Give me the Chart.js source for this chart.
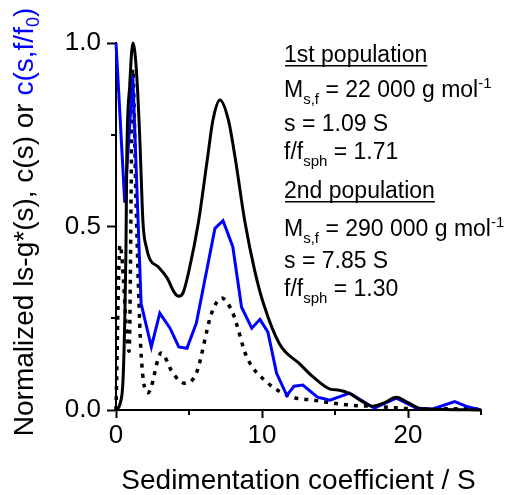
<!DOCTYPE html>
<html>
<head>
<meta charset="utf-8">
<script src="https://cdn.jsdelivr.net/npm/chart.js@4.4.0/dist/chart.umd.min.js"></script>
<style>
  html, body { margin: 0; padding: 0; background: #fff; }
  #wrap { width: 513px; height: 495px; position: relative; }
</style>
</head>
<body>
<div id="wrap"><canvas id="myChart"></canvas></div>
<script>
// ls-g*(s), solid black
var lsgS = [0, 0.3, 0.48, 0.6, 0.68, 0.74, 0.94, 1.16, 1.39, 1.62, 1.85, 2.1, 2.33, 2.9, 3.5, 4.0, 4.3, 4.6, 5.0, 5.64, 6.28, 6.64, 7.12, 7.7, 8.15, 8.84, 9.5, 10.1, 11.2, 12.6, 13.5, 14.66, 15.3, 16.0, 16.8, 17.6, 18.4, 19.2, 20.0, 20.8, 22.0, 25.0];
var lsgY = [0, 0.02, 0.08, 0.245, 0.43, 0.69, 0.885, 1.0, 0.93, 0.75, 0.51, 0.44, 0.41, 0.39, 0.36, 0.32, 0.31, 0.32, 0.38, 0.51, 0.69, 0.79, 0.845, 0.79, 0.69, 0.51, 0.38, 0.29, 0.18, 0.125, 0.09, 0.057, 0.054, 0.045, 0.025, 0.01, 0.02, 0.035, 0.02, 0.005, 0.002, 0.0];

// c(s,f/f0), blue
var cffS = [0, 0.6, 1.15, 1.72, 2.42, 3.0, 3.7, 4.3, 4.86, 5.5, 6.78, 7.33, 8.0, 8.6, 9.3, 9.86, 10.4, 11.0, 11.7, 12.2, 12.8, 13.8, 14.66, 16.0, 17.7, 19.2, 20.6, 21.7, 23.2, 24.0, 25.0];
var cffY = [1.0, 0.565, 0.91, 0.29, 0.172, 0.264, 0.223, 0.172, 0.168, 0.236, 0.495, 0.516, 0.445, 0.28, 0.223, 0.247, 0.213, 0.10, 0.04, 0.065, 0.068, 0.035, 0.027, 0.046, 0.005, 0.032, 0.005, 0.003, 0.023, 0.01, 0.0];

// c(s), dotted black
var csS = [0, 0.27, 0.9, 1.15, 1.37, 1.71, 2.2, 3.1, 3.9, 4.7, 5.5, 6.55, 7.24, 8.0, 8.95, 10.3, 12.0, 13.5, 15.8, 18.1, 20.0, 25.0];
var csY = [0.0, 0.45, 0.16, 0.93, 0.57, 0.16, 0.047, 0.155, 0.10, 0.073, 0.10, 0.264, 0.305, 0.264, 0.145, 0.077, 0.036, 0.027, 0.014, 0.009, 0.004, 0.003];

var xTicks = [0, 10, 20];
var xMinor = [5, 15, 25];
var yTicks = [0, 0.5, 1.0];
var yMinor = [0.25, 0.75];

var FONT = "'Liberation Sans', Arial, Helvetica, sans-serif";

function pts(xs, ys) {
  return xs.map(function (x, i) { return { x: x, y: ys[i] }; });
}

var notes = [
  { y: 62, underline: true, parts: [['1st population']] },
  { y: 97, parts: [['M'], ['s,f', 'sub'], [' = 22 000 g mol'], ['-1', 'sup']] },
  { y: 131, parts: [['s = 1.09 S']] },
  { y: 159, parts: [['f/f'], ['sph', 'sub'], [' = 1.71']] },
  { y: 198, underline: true, parts: [['2nd population']] },
  { y: 236, parts: [['M'], ['s,f', 'sub'], [' = 290 000 g mol'], ['-1', 'sup']] },
  { y: 268, parts: [['s = 7.85 S']] },
  { y: 296, parts: [['f/f'], ['sph', 'sub'], [' = 1.30']] }
];

var yTitle = [
  ['Normalized ls-g*(s), c(s) or ', '#000'],
  ['c(s,f/f', '#0000ff'],
  ['0', '#0000ff', 'sub'],
  [')', '#0000ff']
];

var extras = {
  id: 'extras',
  afterDraw: function (chart) {
    var ctx = chart.ctx;
    var xs = chart.scales.x, ys = chart.scales.y;
    var a = chart.chartArea;

    // minor ticks
    ctx.save();
    ctx.strokeStyle = '#000';
    ctx.lineWidth = 2;
    yMinor.forEach(function (v) {
      var py = Math.round(ys.getPixelForValue(v));
      ctx.beginPath(); ctx.moveTo(a.left - 5, py); ctx.lineTo(a.left, py); ctx.stroke();
    });
    xMinor.forEach(function (v) {
      var px = Math.round(xs.getPixelForValue(v));
      ctx.beginPath(); ctx.moveTo(px, a.bottom); ctx.lineTo(px, a.bottom + 5); ctx.stroke();
    });
    ctx.restore();

    // annotation text
    ctx.save();
    ctx.fillStyle = '#000';
    ctx.textBaseline = 'alphabetic';
    notes.forEach(function (ln) {
      var x = 284;
      ln.parts.forEach(function (p) {
        var kind = p[1];
        var dy = 0;
        if (kind === 'sub') { ctx.font = '15px ' + FONT; dy = 7; }
        else if (kind === 'sup') { ctx.font = '15px ' + FONT; dy = -9; }
        else { ctx.font = '23px ' + FONT; }
        ctx.fillText(p[0], x, ln.y + dy);
        x += ctx.measureText(p[0]).width;
      });
      if (ln.underline) {
        ctx.fillRect(285, ln.y + 3, x - 285, 1.5);
      }
    });
    ctx.restore();

    // y axis title
    ctx.save();
    ctx.translate(33, 222);
    ctx.rotate(-Math.PI / 2);
    ctx.textBaseline = 'alphabetic';
    var total = 0;
    yTitle.forEach(function (p) {
      ctx.font = (p[2] === 'sub' ? '18px ' : '28px ') + FONT;
      total += ctx.measureText(p[0]).width;
    });
    var x = -total / 2;
    yTitle.forEach(function (p) {
      var sub = p[2] === 'sub';
      ctx.font = (sub ? '18px ' : '28px ') + FONT;
      ctx.fillStyle = p[1];
      ctx.fillText(p[0], x, sub ? 6 : 0);
      x += ctx.measureText(p[0]).width;
    });
    ctx.restore();
  }
};

var ctx = document.getElementById('myChart');

var myChart = new Chart(ctx, {
  type: 'line',
  data: {
    datasets: [
      {
        label: 'ls-g*(s)',
        data: pts(lsgS, lsgY),
        borderColor: '#000',
        borderWidth: 3,
        pointRadius: 0,
        cubicInterpolationMode: 'monotone',
        clip: false
      },
      {
        label: 'c(s,f/f0)',
        data: pts(cffS, cffY),
        borderColor: '#0000ff',
        borderWidth: 3,
        pointRadius: 0,
        tension: 0,
        clip: false
      },
      {
        label: 'c(s)',
        data: pts(csS, csY),
        borderColor: '#000',
        borderWidth: 3.5,
        borderDash: [4, 6],
        pointRadius: 0,
        cubicInterpolationMode: 'monotone',
        clip: false
      }
    ]
  },
  options: {
    responsive: true,
    maintainAspectRatio: false,
    animation: false,
    devicePixelRatio: 1,
    layout: { padding: { top: 43, right: 32, left: 0, bottom: 0 } },
    plugins: { legend: { display: false }, tooltip: { enabled: false } },
    scales: {
      x: {
        type: 'linear',
        min: 0,
        max: 25,
        afterBuildTicks: function (s) { s.ticks = xTicks.map(function (v) { return { value: v }; }); },
        afterFit: function (s) { s.height = 85; },
        ticks: {
          color: '#000',
          font: { family: FONT, size: 26 },
          padding: 2,
          maxRotation: 0,
          autoSkip: false,
          callback: function (v) { return String(v); }
        },
        grid: { drawOnChartArea: false, drawTicks: true, tickLength: 8, tickWidth: 2, tickColor: '#000' },
        border: { display: true, color: '#000', width: 2 },
        title: {
          display: true,
          text: 'Sedimentation coefficient / S',
          color: '#000',
          font: { family: FONT, size: 28, lineHeight: 1.0 },
          padding: 0
        }
      },
      y: {
        min: 0,
        max: 1,
        afterBuildTicks: function (s) { s.ticks = yTicks.map(function (v) { return { value: v }; }); },
        afterFit: function (s) { s.width = 116; },
        ticks: {
          color: '#000',
          font: { family: FONT, size: 26 },
          padding: 6,
          callback: function (v) { return v.toFixed(1); }
        },
        grid: { drawOnChartArea: false, drawTicks: true, tickLength: 9, tickWidth: 2, tickColor: '#000' },
        border: { display: true, color: '#000', width: 2 }
      }
    }
  },
  plugins: [extras]
});
</script>
</body>
</html>
